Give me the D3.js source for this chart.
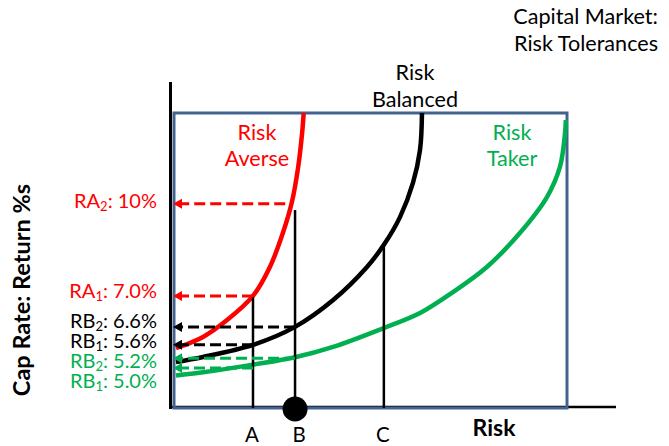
<!DOCTYPE html>
<html><head><meta charset="utf-8">
<script src="https://cdn.jsdelivr.net/npm/d3@7"></script>
<style>
body{margin:0;background:#fff}
svg{display:block}
text{font-family:Lato,"Open Sans",sans-serif}
</style>
</head><body>
<svg id="c" width="669" height="446"></svg>
<script>
// ---------- data ----------
const curveKeys = ["averse", "balanced", "taker"];
const curveTitles = [["Risk", "Averse"], ["Risk", "Balanced"], ["Risk", "Taker"]];

const averseRisk   = [0.5, 7.4, 13.5, 20.1, 24.4, 27.7, 30.0, 31.6, 32.6, 33.0];
const averseReturn = [20.3, 24.1, 29.8, 38.0, 47.8, 59.3, 69.8, 81.7, 93.2, 100];

const balancedRisk   = [0.5, 7.4, 20.1, 30.8, 40.5, 49.1, 53.4, 57.5, 60.8, 62.6, 63.1];
const balancedReturn = [15.6, 17.3, 21.4, 27.5, 36.6, 47.8, 55.3, 64.7, 76.3, 87.5, 100];

const takerRisk   = [0.5, 7.4, 20.1, 30.8, 40.5, 53.4, 62.6, 71.0, 79.6, 88.0, 94.9, 98.2, 99.5, 99.7];
const takerReturn = [11.0, 12.1, 14.7, 17.2, 20.7, 27.1, 32.2, 39.3, 47.8, 59.3, 71.5, 81.7, 93.2, 97.6];

const riskMarks    = ["A", "B", "C"];
const riskMarkX    = [20.1, 30.8, 53.4];
const riskMarkTop  = [37.6, 67.1, 55.3];

const rateNames  = ["RA", "RA", "RB", "RB", "RB", "RB"];
const rateSubs   = ["2", "1", "2", "1", "2", "1"];
const rateTexts  = [": 10%", ": 7.0%", ": 6.6%", ": 5.6%", ": 5.2%", ": 5.0%"];
const rateLevels = [69.2, 38.0, 27.5, 21.4, 16.9, 13.6];
const rateFrom   = [28.3, 20.1, 30.8, 20.1, 30.8, 20.1];
const rateGroup  = ["averse", "averse", "balanced", "balanced", "taker", "taker"];

const chartTitle = ["Capital Market:", "Risk Tolerances"];
const xTitle = "Risk";
const yTitle = "Cap Rate: Return %s";

// ---------- styles / layout ----------
const colors = {averse: "#ff0000", balanced: "#000000", taker: "#00b050"};
const boxColor = "#42638f";
const svg = d3.select("#c");
const x = d3.scaleLinear().domain([0, 100]).range([174, 567]);
const y = d3.scaleLinear().domain([0, 100]).range([408, 113]);
const FS = 21.6;   // general text
const LFS = 20;    // rate labels

// axes lines (no ticks)
svg.append("line").attr("x1", 170.5).attr("x2", 170.5).attr("y1", 82).attr("y2", 409)
  .attr("stroke", "#000").attr("stroke-width", 3);
svg.append("line").attr("x1", 169).attr("x2", 616).attr("y1", 407).attr("y2", 407)
  .attr("stroke", "#000").attr("stroke-width", 2.5);

// box
svg.append("rect").attr("x", x(0)).attr("y", y(100))
  .attr("width", x(100) - x(0)).attr("height", y(0) - y(100))
  .attr("fill", "none").attr("stroke", boxColor).attr("stroke-width", 3);

// curves
const curveData = [
  d3.zip(averseRisk, averseReturn),
  d3.zip(balancedRisk, balancedReturn),
  d3.zip(takerRisk, takerReturn)
];
const line = d3.line().x(d => x(d[0])).y(d => y(d[1])).curve(d3.curveCatmullRom.alpha(0.5));
curveKeys.forEach((k, i) => {
  svg.append("path").attr("d", line(curveData[i]))
    .attr("fill", "none").attr("stroke", colors[k]).attr("stroke-width", 4.5)
    .attr("stroke-linecap", "butt");
});

// vertical risk lines
riskMarks.forEach((m, i) => {
  svg.append("line").attr("x1", x(riskMarkX[i])).attr("x2", x(riskMarkX[i]))
    .attr("y1", y(riskMarkTop[i])).attr("y2", y(0))
    .attr("stroke", "#000").attr("stroke-width", 2.5);
});
// marker on B
svg.append("circle").attr("cx", x(riskMarkX[1])).attr("cy", y(0) + 1).attr("r", 12.5).attr("fill", "#000");

// arrows
const tipX = x(0) - 1;
rateLevels.forEach((lv, i) => {
  const c = colors[rateGroup[i]];
  const yy = y(lv);
  svg.append("line").attr("x1", x(rateFrom[i])).attr("x2", tipX + 7).attr("y1", yy).attr("y2", yy)
    .attr("stroke", c).attr("stroke-width", 3).attr("stroke-dasharray", "11,5");
  svg.append("path")
    .attr("d", `M${tipX},${yy} L${tipX + 9},${yy - 5} L${tipX + 9},${yy + 5} Z`)
    .attr("fill", c);
});

// rate labels
const labelBaseline = [208, 298, 328, 348, 368, 388];
rateNames.forEach((n, i) => {
  const t = svg.append("text").attr("x", 157).attr("y", labelBaseline[i])
    .attr("text-anchor", "end").attr("font-size", LFS).attr("fill", colors[rateGroup[i]]);
  t.append("tspan").text(n);
  t.append("tspan").text(rateSubs[i]).attr("font-size", LFS * 0.65).attr("dy", 3);
  t.append("tspan").text(rateTexts[i]).attr("dy", -3);
});

// curve titles
const titlePos = [[257, 140, 166], [415, 80, 107], [512, 140, 166]];
curveKeys.forEach((k, i) => {
  curveTitles[i].forEach((s, j) => {
    svg.append("text").attr("x", titlePos[i][0]).attr("y", titlePos[i][1 + j])
      .attr("text-anchor", "middle").attr("font-size", FS).attr("fill", colors[k]).text(s);
  });
});

// risk point labels
const markLabelDx = [-1, 4, -1];
riskMarks.forEach((m, i) => {
  svg.append("text").attr("x", x(riskMarkX[i]) + markLabelDx[i]).attr("y", 442)
    .attr("text-anchor", "middle").attr("font-size", 20.5).text(m);
});

// chart title
chartTitle.forEach((s, j) => {
  svg.append("text").attr("x", 658).attr("y", 24 + j * 27).attr("text-anchor", "end")
    .attr("font-size", FS).text(s);
});

// axis titles
svg.append("text").attr("x", 494).attr("y", 436).attr("text-anchor", "middle")
  .attr("font-size", 23).attr("font-weight", "bold").text(xTitle);
svg.append("text").attr("transform", "translate(30,290) rotate(-90)").attr("text-anchor", "middle")
  .attr("font-size", 23.5).attr("font-weight", "bold").text(yTitle);
</script>
</body></html>
